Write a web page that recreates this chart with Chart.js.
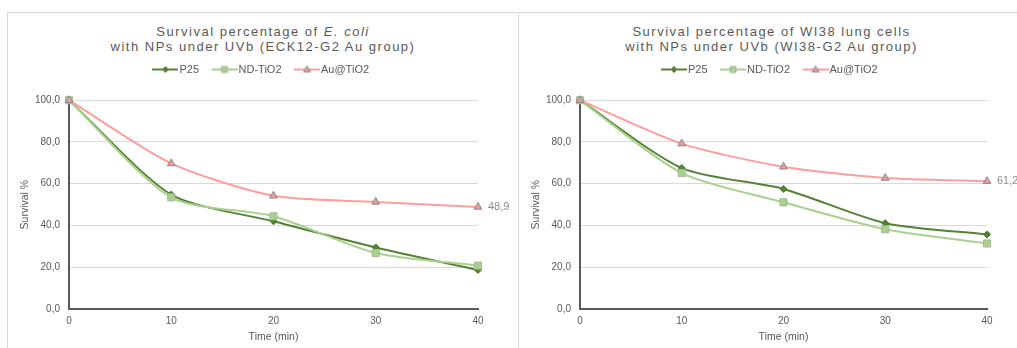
<!DOCTYPE html>
<html>
<head>
<meta charset="utf-8">
<script src="https://cdn.jsdelivr.net/npm/chart.js@4"></script>
<style>
    html, body { margin: 0; padding: 0; background: #fff; }
    body { width: 1017px; height: 348px; overflow: hidden; position: relative; font-family: "Liberation Sans", Arial, sans-serif; }
    .panel { position: absolute; top: 12px; height: 340px; border-left: 1px solid #d9d9d9; border-top: 1px solid #d9d9d9; }
    .panel canvas { position: absolute; left: 0; top: 0; }
    .title { position: absolute; left: 0; right: 0; top: 11px; text-align: center; color: #595959; font-size: 13px; line-height: 15px; letter-spacing: 1.5px; white-space: nowrap; }
</style>
</head>
<body>
<div class="panel" id="panelEcoli" style="left:7px; width:510px;">
    <div class="title">Survival percentage of <i>E. coli</i><br>with NPs under UVb (ECK12-G2 Au group)</div>
    <canvas id="chartEcoli" width="510" height="335"></canvas>
</div>
<div class="panel" id="panelWi38" style="left:518px; width:505px;">
    <div class="title">Survival percentage of WI38 lung cells<br>with NPs under UVb (WI38-G2 Au group)</div>
    <canvas id="chartWi38" width="505" height="335"></canvas>
</div>
<script>
const times = [0, 10, 20, 30, 40];
const seriesNames = ["P25", "ND-TiO2", "Au@TiO2"];

// E. coli survival (%)
const ecoliP25 = [100, 54.8, 42.0, 29.5, 18.7];
const ecoliND = [100, 53.5, 44.4, 26.8, 20.8];
const ecoliAu = [100, 69.7, 54.2, 51.3, 48.9];

// WI38 lung cell survival (%)
const wi38P25 = [100, 67.5, 57.5, 41.1, 35.7];
const wi38ND = [100, 65.1, 51.1, 38.2, 31.4];
const wi38Au = [100, 79.2, 68.1, 62.7, 61.2];

const yTicks = [0, 20, 40, 60, 80, 100];

const textGrey = "#595959";
const styles = [
    { line: "#548235", fill: "#548235", border: "#4a7430", point: "rectRot", radius: 3.5 },
    { line: "#a9d18e", fill: "#a9d18e", border: "#a6b89a", point: "rect", radius: 5 },
    { line: "#ff9d9d", fill: "#ec9a9a", border: "#8c8c8c", point: "triangle", radius: 4.5 }
];

// small line-with-marker images for the legend
function legendIcon(st)
{
    const c = document.createElement("canvas");
    c.width = 26;
    c.height = 10;
    const g = c.getContext("2d");
    g.strokeStyle = st.line;
    g.lineWidth = 2;
    g.beginPath();
    g.moveTo(0, 5);
    g.lineTo(26, 5);
    g.stroke();
    g.fillStyle = st.fill;
    g.strokeStyle = st.border;
    g.lineWidth = 1;
    g.beginPath();
    if (st.point === "rectRot")
    {
        g.moveTo(13, 2); g.lineTo(16, 5); g.lineTo(13, 8); g.lineTo(10, 5);
    }
    else if (st.point === "rect")
    {
        g.rect(10, 2, 6, 6);
    }
    else
    {
        g.moveTo(13, 1.5); g.lineTo(16.5, 7.5); g.lineTo(9.5, 7.5);
    }
    g.closePath();
    g.fill();
    g.stroke();
    return c;
}
const icons = styles.map(legendIcon);

// center the legend on the whole canvas, not just the padded area
const legendSpan = {
    id: "legendSpan",
    afterLayout(chart)
    {
        chart.legend.left = 0;
        chart.legend.right = chart.width;
    }
};

// value label to the right of the last Au@TiO2 point
const lastValueLabel = {
    id: "lastValueLabel",
    afterDatasetsDraw(chart)
    {
        const meta = chart.getDatasetMeta(2);
        const pt = meta.data[meta.data.length - 1];
        const v = chart.data.datasets[2].data[meta.data.length - 1];
        const ctx = chart.ctx;
        ctx.save();
        ctx.font = "11px 'Liberation Sans', Arial, sans-serif";
        ctx.fillStyle = "#8c8c8c";
        ctx.textAlign = "left";
        ctx.textBaseline = "middle";
        ctx.fillText(v.toFixed(1).replace(".", ","), pt.x + 10, pt.y);
        ctx.restore();
    }
};

function makeChart(id, p25, nd, au, padRight)
{
    const values = [p25, nd, au];
    const datasets = values.map((vals, i) => ({
        label: seriesNames[i],
        data: vals,
        borderColor: styles[i].line,
        backgroundColor: styles[i].fill,
        borderWidth: 2,
        pointStyle: styles[i].point,
        pointRadius: styles[i].radius,
        pointBackgroundColor: styles[i].fill,
        pointBorderColor: styles[i].border,
        pointBorderWidth: 1,
        tension: 0.25,
        clip: false,
        order: 3 - i
    }));

    return new Chart(document.getElementById(id), {
        type: "line",
        data: { labels: times, datasets: datasets },
        plugins: [legendSpan, lastValueLabel],
        options: {
            responsive: false,
            animation: false,
            layout: { padding: { top: 34, right: padRight, bottom: 0, left: 0 } },
            plugins: {
                tooltip: { enabled: false },
                legend: {
                    position: "top",
                    labels: {
                        usePointStyle: true,
                        pointStyleWidth: 17,
                        padding: 17,
                        color: textGrey,
                        font: { size: 11, family: "'Liberation Sans', Arial, sans-serif" },
                        generateLabels: () => seriesNames.map((name, i) => ({
                            text: name,
                            pointStyle: icons[i],
                            fontColor: textGrey,
                            lineWidth: 0,
                            datasetIndex: i
                        }))
                    }
                },
                // empty gap between the legend and the plot
                subtitle: {
                    display: true,
                    text: "",
                    weight: 500,
                    font: { size: 1 },
                    padding: { top: 0, bottom: 14 }
                }
            },
            scales: {
                x: {
                    type: "category",
                    offset: false,
                    afterFit: (s) => { s.height = 39; },
                    grid: { display: false, drawTicks: false },
                    border: { display: true, color: "#595959", width: 2 },
                    ticks: {
                        color: textGrey,
                        padding: 6,
                        maxRotation: 0,
                        font: { size: 10, family: "'Liberation Sans', Arial, sans-serif" }
                    },
                    title: {
                        display: true,
                        text: "Time (min)",
                        color: textGrey,
                        padding: { top: 0, bottom: 5 },
                        font: { size: 10.5, family: "'Liberation Sans', Arial, sans-serif" }
                    }
                },
                y: {
                    min: 0,
                    max: 100,
                    afterFit: (s) => { s.width = 61; },
                    afterBuildTicks: (s) => { s.ticks = yTicks.map(v => ({ value: v })); },
                    grid: { color: "#d9d9d9", lineWidth: 1, drawTicks: false },
                    border: { display: true, color: "#595959", width: 2 },
                    ticks: {
                        color: textGrey,
                        padding: 9,
                        callback: (v) => v.toFixed(1).replace(".", ","),
                        font: { size: 10, family: "'Liberation Sans', Arial, sans-serif" }
                    },
                    title: {
                        display: true,
                        text: "Survival %",
                        color: textGrey,
                        padding: { top: 11, bottom: 0 },
                        font: { size: 10.5, family: "'Liberation Sans', Arial, sans-serif" }
                    }
                }
            }
        }
    });
}

makeChart("chartEcoli", ecoliP25, ecoliND, ecoliAu, 40);
makeChart("chartWi38", wi38P25, wi38ND, wi38Au, 37);
</script>
</body>
</html>
